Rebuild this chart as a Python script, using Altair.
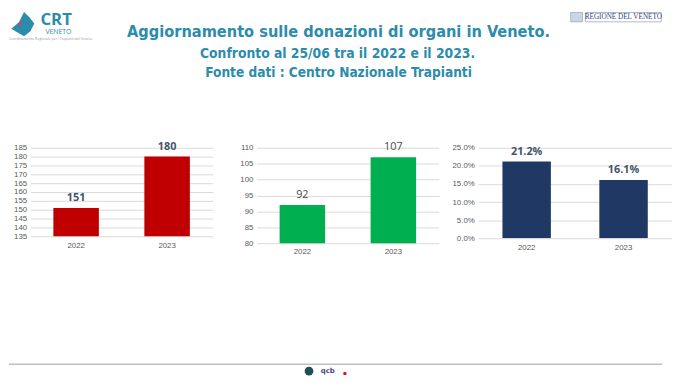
import altair as alt
import pandas as pd

# ---------------- data ----------------
YEARS = ["2022", "2023"]
DONORS_ACT = [151, 180]          # panel 1 (red)
DONORS_EFF = [92, 107]           # panel 2 (green)
OPPOSITION = [0.212, 0.161]      # panel 3 (navy), percentages

TICKS_1 = [135, 140, 145, 150, 155, 160, 165, 170, 175, 180, 185]
TICKS_2 = [80, 85, 90, 95, 100, 105, 110]
TICKS_3 = [0.0, 0.05, 0.10, 0.15, 0.20, 0.25]

TITLE_1 = "Aggiornamento sulle donazioni di organi  in Veneto."
TITLE_2 = "Confronto al 25/06 tra il 2022 e il 2023."
TITLE_3 = "Fonte dati : Centro Nazionale Trapianti"

TEAL = "#2C8CAB"
NARROW = "DejaVu Sans Condensed, sans-serif"
LABEL_FONT = "Liberation Sans"


def panel(values, color, domain, ticks, width, height, fmt, bold_labels, label_color):
    df = pd.DataFrame({"anno": YEARS, "valore": values})
    yscale = alt.Scale(domain=domain, nice=False, zero=False)
    base = alt.Chart(df).encode(
        x=alt.X("anno:N", title=None,
                scale=alt.Scale(paddingInner=0.5, paddingOuter=0.25),
                axis=alt.Axis(labelAngle=0, labelPadding=5, grid=False)),
        y=alt.Y("valore:Q", scale=yscale, title=None,
                axis=alt.Axis(values=ticks, format=fmt, labelPadding=4, grid=True,
                              labelOverlap=False)),
    )
    bars = base.mark_bar(color=color, clip=True)
    text = base.mark_text(
        baseline="bottom", dy=-5, fontSize=11, font="Open Sans",
        fontWeight="bold" if bold_labels else "normal", color=label_color
    ).encode(text=alt.Text("valore:Q", format=fmt))
    return alt.layer(bars, text).properties(width=width, height=height)


p1 = panel(DONORS_ACT, "#C00000", [135, 185], TICKS_1, 185, 90, "d", True, "#44546A")
p2 = panel(DONORS_EFF, "#00B050", [80, 110], TICKS_2, 185, 97, "d", False, "#4A4A4A")
p3 = panel(OPPOSITION, "#1F3864", [0, 0.25], TICKS_3, 197, 92, ".1%", True, "#44546A")

panels = alt.hconcat(alt.hconcat(p1, p2, spacing=27), p3, spacing=13)

# ---------------- header ----------------
one = alt.Data(values=[{"k": 1}])

def htext(txt, x, y, **kw):
    return alt.Chart(one).mark_text(text=txt, **kw).encode(x=alt.value(x), y=alt.value(y))

header = alt.layer(
    # invisible frame rule fixing the header's bounds
    alt.Chart(one).mark_rule(color="white", opacity=0).encode(
        x=alt.value(-22), x2=alt.value(642), y=alt.value(0)),
    htext(TITLE_1, 313, 20.5, fontSize=16.5, fontWeight="bold", font=NARROW, color=TEAL),
    htext(TITLE_2, 312, 42.5, fontSize=14.0, fontWeight="bold", font=NARROW, color=TEAL),
    htext(TITLE_3, 313, 62.5, fontSize=13.8, fontWeight="bold", font=NARROW, color=TEAL),
    # CRT Veneto logo
    alt.Chart(one).mark_point(
        shape="M-0.9,0.3 L-0.3,-0.2 L0.1,-1 L0.5,-0.6 L0.9,-0.1 L0.6,0.5 L0.1,0.9 L-0.4,0.6 Z",
        filled=True, color=TEAL, opacity=1, size=676
    ).encode(x=alt.value(-8), y=alt.value(13)),
    alt.Chart(one).mark_point(filled=True, color="#E0405A", opacity=1, size=12
    ).encode(x=alt.value(-11), y=alt.value(12)),
    htext("CRT", 10, 0, fontSize=17, fontWeight="bold", font="Open Sans", color=TEAL,
          align="left", baseline="top"),
    htext("VENETO", 15, 20.5, fontSize=7, font="Open Sans", color=TEAL, align="left"),
    htext("Coordinamento Regionale per i Trapianti del Veneto", -22, 27.5, fontSize=3.5,
          font="Open Sans", color="#8A9AA5", align="left"),
    # Regione del Veneto logo
    alt.Chart(one).mark_rect(fill="white", stroke="#9AA6B8", strokeWidth=0.8).encode(
        x=alt.value(564), x2=alt.value(641), y=alt.value(0.5), y2=alt.value(10)),
    alt.Chart(one).mark_rect(fill="#C9D6E6", stroke="#8898B0", strokeWidth=0.6).encode(
        x=alt.value(549), x2=alt.value(561), y=alt.value(0.5), y2=alt.value(10)),
    htext("REGIONE DEL VENETO", 602.5, 5.5, fontSize=7.3, font="Liberation Serif",
          color="#2F3E7A", baseline="middle"),
).properties(width=600, height=130)

# ---------------- footer ----------------
footer = alt.layer(
    alt.Chart(one).mark_rule(color="#BFBFBF", strokeWidth=1.5).encode(
        x=alt.value(-22), x2=alt.value(642), y=alt.value(110)),
    alt.Chart(one).mark_point(filled=True, color="#1F4E5A", opacity=1, size=80).encode(
        x=alt.value(283), y=alt.value(117)),
    htext("qcb", 302, 117, fontSize=7, fontWeight="bold", font="DejaVu Sans",
          color="#4A3C8C", baseline="middle"),
    alt.Chart(one).mark_rect(color="#E0102A").encode(
        x=alt.value(318), x2=alt.value(321), y=alt.value(118), y2=alt.value(121)),
).properties(width=600, height=120)

chart = alt.vconcat(header, panels, footer, spacing=0).properties(
    padding={"left": 0, "top": 0, "right": 0, "bottom": 0},
    background="white"
).configure_view(stroke=None).configure_axis(
    domain=False, ticks=False, labelColor="#595959", labelFontSize=8,
    labelFont=LABEL_FONT, gridColor="#D9D9D9", gridWidth=1
)

chart.save("out.html", embed_options={"renderer": "svg", "actions": False})
